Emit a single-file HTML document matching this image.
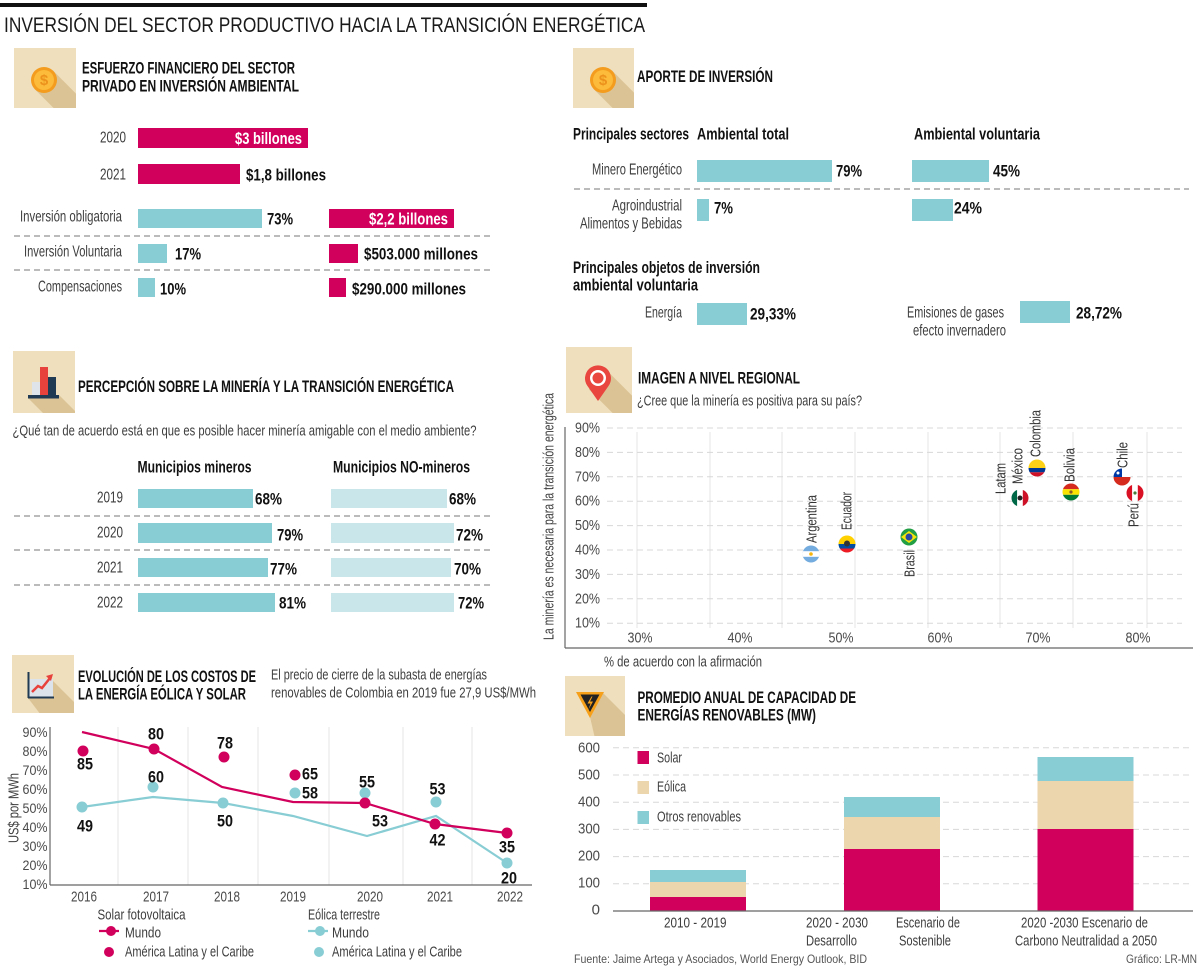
<!DOCTYPE html>
<html><head><meta charset="utf-8"><style>
html,body{margin:0;padding:0;background:#fff;}
svg{display:block;}
text{font-family:"Liberation Sans",Arial,sans-serif;}
.l{fill:#3d3d3d;font-size:16px;}
.v{fill:#111;font-size:17px;font-weight:bold;}
.h{fill:#111;font-size:16.5px;font-weight:bold;}
.ax{fill:#4a4a4a;font-size:15px;}
</style></head><body>
<svg width="1200" height="966" viewBox="0 0 1200 966" xmlns="http://www.w3.org/2000/svg" lengthAdjust="spacingAndGlyphs">
<defs>
<clipPath id="ib1"><rect x="14" y="48" width="62" height="60"/></clipPath>
<clipPath id="ib2"><rect x="573" y="48" width="61" height="60"/></clipPath>
<clipPath id="ib3"><rect x="13" y="351" width="62" height="62"/></clipPath>
<clipPath id="ib4"><rect x="566" y="347" width="66" height="66"/></clipPath>
<clipPath id="ib5"><rect x="12" y="655" width="62" height="58"/></clipPath>
<clipPath id="ib6"><rect x="565" y="676" width="60" height="60"/></clipPath>
<clipPath id="fA"><circle cx="811" cy="554" r="8.5"/></clipPath>
<clipPath id="fE"><circle cx="847" cy="544" r="8.5"/></clipPath>
<clipPath id="fB"><circle cx="909" cy="537" r="8.5"/></clipPath>
<clipPath id="fM"><circle cx="1020" cy="498" r="8.5"/></clipPath>
<clipPath id="fC"><circle cx="1037" cy="468" r="8.5"/></clipPath>
<clipPath id="fBo"><circle cx="1071" cy="492" r="8.5"/></clipPath>
<clipPath id="fCh"><circle cx="1122" cy="477" r="8.5"/></clipPath>
<clipPath id="fP"><circle cx="1135" cy="493" r="8.5"/></clipPath>
</defs>

<!-- HEADER -->
<rect x="0" y="3" width="647" height="4" fill="#111"/>
<text x="4" y="25.5" dominant-baseline="central" font-size="21" fill="#1a1a1a" textLength="641" lengthAdjust="spacingAndGlyphs">INVERSIÓN DEL SECTOR PRODUCTIVO HACIA LA TRANSICIÓN ENERGÉTICA</text>

<!-- ICON 1 coin -->
<rect x="14" y="48" width="62" height="60" fill="#efdfbc"/>
<line x1="44" y1="80" x2="124" y2="160" stroke="#dcc396" stroke-width="26" clip-path="url(#ib1)"/>
<circle cx="44" cy="80" r="13" fill="#f39c1e"/>
<circle cx="44" cy="80" r="10" fill="#fcbb3a"/>
<text x="44" y="80.5" text-anchor="middle" dominant-baseline="central" font-size="15" font-weight="bold" fill="#ec921c">$</text>

<!-- SECTION 1 -->
<text class="h" x="82" y="68.5" dominant-baseline="central" textLength="213" lengthAdjust="spacingAndGlyphs">ESFUERZO FINANCIERO DEL SECTOR</text>
<text class="h" x="82" y="86.5" dominant-baseline="central" textLength="217" lengthAdjust="spacingAndGlyphs">PRIVADO EN INVERSIÓN AMBIENTAL</text>

<rect x="138" y="128" width="170" height="20" fill="#d1005c"/>
<text class="l" x="126" y="138" text-anchor="end" dominant-baseline="central" textLength="26" lengthAdjust="spacingAndGlyphs">2020</text>
<text class="v" x="302" y="138.5" text-anchor="end" dominant-baseline="central" style="fill:#fff" textLength="67" lengthAdjust="spacingAndGlyphs">$3 billones</text>

<rect x="138" y="164" width="102" height="20" fill="#d1005c"/>
<text class="l" x="126" y="175" text-anchor="end" dominant-baseline="central" textLength="26" lengthAdjust="spacingAndGlyphs">2021</text>
<text class="v" x="246" y="175" dominant-baseline="central" textLength="80" lengthAdjust="spacingAndGlyphs">$1,8 billones</text>

<rect x="138" y="209" width="124" height="19" fill="#88cdd4"/>
<rect x="329" y="209" width="125" height="19" fill="#d1005c"/>
<text class="l" x="122" y="217" text-anchor="end" dominant-baseline="central" textLength="102" lengthAdjust="spacingAndGlyphs">Inversión obligatoria</text>
<text class="v" x="267" y="219" dominant-baseline="central" textLength="26" lengthAdjust="spacingAndGlyphs">73%</text>
<text class="v" x="448" y="219" text-anchor="end" dominant-baseline="central" style="fill:#fff" textLength="79" lengthAdjust="spacingAndGlyphs">$2,2 billones</text>
<line x1="14" y1="236" x2="493" y2="236" stroke="#777" stroke-dasharray="6 4"/>

<rect x="138" y="244" width="29" height="19" fill="#88cdd4"/>
<rect x="329" y="244" width="29" height="19" fill="#d1005c"/>
<text class="l" x="122" y="252" text-anchor="end" dominant-baseline="central" textLength="98" lengthAdjust="spacingAndGlyphs">Inversión Voluntaria</text>
<text class="v" x="175" y="254" dominant-baseline="central" textLength="26" lengthAdjust="spacingAndGlyphs">17%</text>
<text class="v" x="364" y="254" dominant-baseline="central" textLength="114" lengthAdjust="spacingAndGlyphs">$503.000 millones</text>
<line x1="14" y1="270" x2="493" y2="270" stroke="#777" stroke-dasharray="6 4"/>

<rect x="138" y="278" width="17" height="19" fill="#88cdd4"/>
<rect x="329" y="278" width="17" height="19" fill="#d1005c"/>
<text class="l" x="122" y="287" text-anchor="end" dominant-baseline="central" textLength="84" lengthAdjust="spacingAndGlyphs">Compensaciones</text>
<text class="v" x="160" y="289" dominant-baseline="central" textLength="26" lengthAdjust="spacingAndGlyphs">10%</text>
<text class="v" x="352" y="289" dominant-baseline="central" textLength="114" lengthAdjust="spacingAndGlyphs">$290.000 millones</text>

<!-- ICON 2 coin -->
<rect x="573" y="48" width="61" height="60" fill="#efdfbc"/>
<line x1="603" y1="80" x2="683" y2="160" stroke="#dcc396" stroke-width="26" clip-path="url(#ib2)"/>
<circle cx="603" cy="80" r="13" fill="#f39c1e"/>
<circle cx="603" cy="80" r="10" fill="#fcbb3a"/>
<text x="603" y="80.5" text-anchor="middle" dominant-baseline="central" font-size="15" font-weight="bold" fill="#ec921c">$</text>

<!-- SECTION 2 -->
<text class="h" x="637" y="77" dominant-baseline="central" textLength="136" lengthAdjust="spacingAndGlyphs">APORTE DE INVERSIÓN</text>
<text class="h" x="573" y="134" dominant-baseline="central" textLength="116" lengthAdjust="spacingAndGlyphs" style="font-size:17px">Principales sectores</text>
<text class="h" x="697" y="134" dominant-baseline="central" textLength="92" lengthAdjust="spacingAndGlyphs" style="font-size:17px">Ambiental total</text>
<text class="h" x="914" y="134" dominant-baseline="central" textLength="126" lengthAdjust="spacingAndGlyphs" style="font-size:17px">Ambiental voluntaria</text>

<rect x="697" y="160" width="135" height="22" fill="#88cdd4"/>
<rect x="912" y="160" width="77" height="22" fill="#88cdd4"/>
<text class="l" x="682" y="170" text-anchor="end" dominant-baseline="central" textLength="90" lengthAdjust="spacingAndGlyphs">Minero Energético</text>
<text class="v" x="836" y="171" dominant-baseline="central" textLength="26" lengthAdjust="spacingAndGlyphs">79%</text>
<text class="v" x="993" y="171" dominant-baseline="central" textLength="27" lengthAdjust="spacingAndGlyphs">45%</text>
<line x1="574" y1="189" x2="1189" y2="189" stroke="#777" stroke-dasharray="6 4"/>

<rect x="697" y="199" width="12" height="22" fill="#88cdd4"/>
<rect x="912" y="199" width="41" height="22" fill="#88cdd4"/>
<text class="l" x="682" y="206" text-anchor="end" dominant-baseline="central" textLength="70" lengthAdjust="spacingAndGlyphs">Agroindustrial</text>
<text class="l" x="682" y="224" text-anchor="end" dominant-baseline="central" textLength="102" lengthAdjust="spacingAndGlyphs">Alimentos y Bebidas</text>
<text class="v" x="714" y="208" dominant-baseline="central" textLength="19" lengthAdjust="spacingAndGlyphs">7%</text>
<text class="v" x="954" y="208" dominant-baseline="central" textLength="28" lengthAdjust="spacingAndGlyphs">24%</text>

<text class="h" x="573" y="267.5" dominant-baseline="central" textLength="187" lengthAdjust="spacingAndGlyphs" style="font-size:17px">Principales objetos de inversión</text>
<text class="h" x="573" y="285" dominant-baseline="central" textLength="125" lengthAdjust="spacingAndGlyphs" style="font-size:17px">ambiental voluntaria</text>

<rect x="697" y="303" width="50" height="22" fill="#88cdd4"/>
<text class="l" x="682" y="313" text-anchor="end" dominant-baseline="central" textLength="37" lengthAdjust="spacingAndGlyphs">Energía</text>
<text class="v" x="750" y="314" dominant-baseline="central" textLength="46" lengthAdjust="spacingAndGlyphs">29,33%</text>
<rect x="1020" y="301" width="50" height="22" fill="#88cdd4"/>
<text class="l" x="907" y="313" dominant-baseline="central" textLength="97" lengthAdjust="spacingAndGlyphs">Emisiones de gases</text>
<text class="l" x="913" y="331" dominant-baseline="central" textLength="93" lengthAdjust="spacingAndGlyphs">efecto invernadero</text>
<text class="v" x="1076" y="313" dominant-baseline="central" textLength="46" lengthAdjust="spacingAndGlyphs">28,72%</text>

<!-- ICON 3 chart -->
<rect x="13" y="351" width="62" height="62" fill="#efdfbc"/>
<polygon points="28,398 59,395 95,431 64,434" fill="#dcc396" clip-path="url(#ib3)"/>
<rect x="32" y="382" width="8" height="14" fill="#dfe4ea"/>
<rect x="40" y="367" width="8" height="29" fill="#e8423d"/>
<rect x="48" y="377" width="8" height="19" fill="#1f3a52"/>
<rect x="28" y="395" width="31" height="3.5" fill="#1f3a52"/>

<!-- SECTION 3 -->
<text class="h" x="78" y="387" dominant-baseline="central" textLength="376" lengthAdjust="spacingAndGlyphs">PERCEPCIÓN SOBRE LA MINERÍA Y LA TRANSICIÓN ENERGÉTICA</text>
<text class="l" x="12.5" y="431" dominant-baseline="central" textLength="464" lengthAdjust="spacingAndGlyphs" style="font-size:15px">¿Qué tan de acuerdo está en que es posible hacer minería amigable con el medio ambiente?</text>
<text class="h" x="137.5" y="467" dominant-baseline="central" textLength="114" lengthAdjust="spacingAndGlyphs" style="font-size:17px">Municipios mineros</text>
<text class="h" x="333" y="467" dominant-baseline="central" textLength="137" lengthAdjust="spacingAndGlyphs" style="font-size:17px">Municipios NO-mineros</text>

<rect x="138" y="489" width="115" height="19" fill="#88cdd4"/>
<rect x="331" y="489" width="116" height="19" fill="#c9e7ea"/>
<text class="l" x="123" y="498" text-anchor="end" dominant-baseline="central" textLength="26" lengthAdjust="spacingAndGlyphs">2019</text>
<text class="v" x="255" y="499" dominant-baseline="central" textLength="27" lengthAdjust="spacingAndGlyphs">68%</text>
<text class="v" x="449" y="499" dominant-baseline="central" textLength="27" lengthAdjust="spacingAndGlyphs">68%</text>
<line x1="14" y1="516" x2="493" y2="516" stroke="#777" stroke-dasharray="6 4"/>

<rect x="138" y="523" width="134" height="20" fill="#88cdd4"/>
<rect x="331" y="523" width="123" height="20" fill="#c9e7ea"/>
<text class="l" x="123" y="533" text-anchor="end" dominant-baseline="central" textLength="26" lengthAdjust="spacingAndGlyphs">2020</text>
<text class="v" x="277" y="535" dominant-baseline="central" textLength="26" lengthAdjust="spacingAndGlyphs">79%</text>
<text class="v" x="456" y="535" dominant-baseline="central" textLength="27" lengthAdjust="spacingAndGlyphs">72%</text>
<line x1="14" y1="550" x2="493" y2="550" stroke="#777" stroke-dasharray="6 4"/>

<rect x="138" y="558" width="130" height="19" fill="#88cdd4"/>
<rect x="331" y="558" width="120" height="19" fill="#c9e7ea"/>
<text class="l" x="123" y="568" text-anchor="end" dominant-baseline="central" textLength="26" lengthAdjust="spacingAndGlyphs">2021</text>
<text class="v" x="270" y="569" dominant-baseline="central" textLength="27" lengthAdjust="spacingAndGlyphs">77%</text>
<text class="v" x="454" y="569" dominant-baseline="central" textLength="27" lengthAdjust="spacingAndGlyphs">70%</text>
<line x1="14" y1="585" x2="493" y2="585" stroke="#777" stroke-dasharray="6 4"/>

<rect x="138" y="593" width="137" height="19" fill="#88cdd4"/>
<rect x="331" y="593" width="123" height="19" fill="#c9e7ea"/>
<text class="l" x="123" y="603" text-anchor="end" dominant-baseline="central" textLength="26" lengthAdjust="spacingAndGlyphs">2022</text>
<text class="v" x="279" y="603" dominant-baseline="central" textLength="27" lengthAdjust="spacingAndGlyphs">81%</text>
<text class="v" x="458" y="603" dominant-baseline="central" textLength="26" lengthAdjust="spacingAndGlyphs">72%</text>

<!-- ICON 4 pin -->
<rect x="566" y="347" width="66" height="66" fill="#efdfbc"/>
<line x1="598" y1="380" x2="678" y2="460" stroke="#dcc396" stroke-width="26" clip-path="url(#ib4)"/>
<path d="M598,401 L587.5,386 A13,13 0 1 1 608.5,386 Z" fill="#e8463e"/>
<circle cx="598" cy="378" r="8" fill="#fff"/>
<circle cx="598" cy="378" r="5.5" fill="#e8463e"/>

<!-- SECTION 4 scatter -->
<text class="h" x="638" y="378.5" dominant-baseline="central" textLength="162" lengthAdjust="spacingAndGlyphs">IMAGEN A NIVEL REGIONAL</text>
<text class="l" x="637" y="401" dominant-baseline="central" textLength="225" lengthAdjust="spacingAndGlyphs" style="font-size:15px">¿Cree que la minería es positiva para su país?</text>

<g stroke="#e4e4e4" stroke-width="1">
<line x1="637" y1="432" x2="637" y2="628"/><line x1="710" y1="432" x2="710" y2="628"/>
<line x1="782" y1="432" x2="782" y2="628"/><line x1="855" y1="432" x2="855" y2="628"/>
<line x1="928" y1="432" x2="928" y2="628"/><line x1="1000" y1="432" x2="1000" y2="628"/>
<line x1="1073" y1="432" x2="1073" y2="628"/><line x1="1147" y1="432" x2="1147" y2="628"/>
</g>
<g stroke="#d8d8d8" stroke-width="1" stroke-dasharray="6 4">
<line x1="607" y1="428" x2="1182" y2="428"/><line x1="607" y1="452.4" x2="1182" y2="452.4"/>
<line x1="607" y1="476.8" x2="1182" y2="476.8"/><line x1="607" y1="501.2" x2="1182" y2="501.2"/>
<line x1="607" y1="525.6" x2="1182" y2="525.6"/><line x1="607" y1="550" x2="1182" y2="550"/>
<line x1="607" y1="574.4" x2="1182" y2="574.4"/><line x1="607" y1="598.8" x2="1182" y2="598.8"/>
<line x1="607" y1="623.2" x2="1182" y2="623.2"/>
</g>
<line x1="565" y1="427" x2="565" y2="648" stroke="#666" stroke-width="1.2"/>
<line x1="565" y1="648" x2="1193" y2="648" stroke="#666" stroke-width="1.2"/>
<g class="ax" text-anchor="end" dominant-baseline="central">
<text x="600" y="428" textLength="25" lengthAdjust="spacingAndGlyphs">90%</text>
<text x="600" y="452.4" textLength="25" lengthAdjust="spacingAndGlyphs">80%</text>
<text x="600" y="476.8" textLength="25" lengthAdjust="spacingAndGlyphs">70%</text>
<text x="600" y="501.2" textLength="25" lengthAdjust="spacingAndGlyphs">60%</text>
<text x="600" y="525.6" textLength="25" lengthAdjust="spacingAndGlyphs">50%</text>
<text x="600" y="550" textLength="25" lengthAdjust="spacingAndGlyphs">40%</text>
<text x="600" y="574.4" textLength="25" lengthAdjust="spacingAndGlyphs">30%</text>
<text x="600" y="598.8" textLength="25" lengthAdjust="spacingAndGlyphs">20%</text>
<text x="600" y="623.2" textLength="25" lengthAdjust="spacingAndGlyphs">10%</text>
</g>
<g class="ax" text-anchor="middle" dominant-baseline="central">
<text x="640" y="638" textLength="25" lengthAdjust="spacingAndGlyphs">30%</text>
<text x="740" y="638" textLength="25" lengthAdjust="spacingAndGlyphs">40%</text>
<text x="841" y="638" textLength="25" lengthAdjust="spacingAndGlyphs">50%</text>
<text x="940" y="638" textLength="25" lengthAdjust="spacingAndGlyphs">60%</text>
<text x="1038" y="638" textLength="25" lengthAdjust="spacingAndGlyphs">70%</text>
<text x="1138" y="638" textLength="25" lengthAdjust="spacingAndGlyphs">80%</text>
</g>
<text class="l" x="604" y="662" dominant-baseline="central" textLength="158" lengthAdjust="spacingAndGlyphs" style="font-size:15px">% de acuerdo con la afirmación</text>
<text class="l" transform="translate(549,640) rotate(-90)" x="0" y="0" dominant-baseline="central" textLength="247" lengthAdjust="spacingAndGlyphs" style="font-size:15px">La minería es necesaria para la transición energética</text>

<!-- flags -->
<g clip-path="url(#fA)"><rect x="802" y="545" width="18" height="18" fill="#74acdf"/><rect x="802" y="551.2" width="18" height="5.6" fill="#fff"/><circle cx="811" cy="554" r="1.8" fill="#f6b40e"/></g>
<g clip-path="url(#fE)"><rect x="838" y="535" width="18" height="9" fill="#ffd100"/><rect x="838" y="544" width="18" height="4.5" fill="#034ea2"/><rect x="838" y="548.5" width="18" height="5" fill="#ed1c24"/><circle cx="847" cy="543.5" r="3" fill="#333"/></g>
<g clip-path="url(#fB)"><rect x="900" y="528" width="18" height="18" fill="#229e45"/><polygon points="901,537 909,531 917,537 909,543" fill="#f8e509"/><circle cx="909" cy="537" r="3.5" fill="#2b49a3"/></g>
<g clip-path="url(#fM)"><rect x="1011" y="489" width="6.2" height="18" fill="#006847"/><rect x="1017.2" y="489" width="5.6" height="18" fill="#fff"/><rect x="1022.8" y="489" width="6.5" height="18" fill="#ce1126"/><circle cx="1020" cy="498" r="2.5" fill="#222"/></g>
<g clip-path="url(#fC)"><rect x="1028" y="459" width="18" height="9" fill="#fcd116"/><rect x="1028" y="468" width="18" height="4.3" fill="#003893"/><rect x="1028" y="472.3" width="18" height="5" fill="#ce1126"/></g>
<g clip-path="url(#fBo)"><rect x="1062" y="483" width="18" height="6.2" fill="#d52b1e"/><rect x="1062" y="489.2" width="18" height="5.6" fill="#f9e300"/><rect x="1062" y="494.8" width="18" height="6" fill="#007934"/><circle cx="1071" cy="492" r="1.6" fill="#8a5a2a"/></g>
<g clip-path="url(#fCh)"><rect x="1113" y="468" width="18" height="9" fill="#fff"/><rect x="1113" y="468" width="9" height="9" fill="#0039a6"/><rect x="1113" y="477" width="18" height="9" fill="#d52b1e"/><circle cx="1118" cy="473" r="1.5" fill="#fff"/></g>
<g clip-path="url(#fP)"><rect x="1126" y="484" width="6.2" height="18" fill="#d91023"/><rect x="1132.2" y="484" width="5.6" height="18" fill="#fff"/><rect x="1137.8" y="484" width="6.5" height="18" fill="#d91023"/><circle cx="1135" cy="493" r="1.6" fill="#4a7a3a"/></g>

<g class="l" style="font-size:15px;fill:#333" dominant-baseline="central">
<text transform="translate(812,543) rotate(-90)" textLength="48" lengthAdjust="spacingAndGlyphs">Argentina</text>
<text transform="translate(847,530) rotate(-90)" textLength="38" lengthAdjust="spacingAndGlyphs">Ecuador</text>
<text transform="translate(910,577) rotate(-90)" textLength="27" lengthAdjust="spacingAndGlyphs">Brasil</text>
<text transform="translate(1001,494) rotate(-90)" textLength="31" lengthAdjust="spacingAndGlyphs">Latam</text>
<text transform="translate(1018,484) rotate(-90)" textLength="36" lengthAdjust="spacingAndGlyphs">México</text>
<text transform="translate(1036,457) rotate(-90)" textLength="47" lengthAdjust="spacingAndGlyphs">Colombia</text>
<text transform="translate(1070,482) rotate(-90)" textLength="34" lengthAdjust="spacingAndGlyphs">Bolivia</text>
<text transform="translate(1123,468) rotate(-90)" textLength="26" lengthAdjust="spacingAndGlyphs">Chile</text>
<text transform="translate(1134,527) rotate(-90)" textLength="24" lengthAdjust="spacingAndGlyphs">Perú</text>
</g>

<!-- ICON 5 graph -->
<rect x="12" y="655" width="62" height="58" fill="#efdfbc"/>
<polygon points="28,698 53,698 53,681 90,718 60,740" fill="#dcc396" clip-path="url(#ib5)"/>
<rect x="29" y="679" width="24" height="18" fill="#dde3ea"/>
<line x1="28.5" y1="672" x2="28.5" y2="698" stroke="#1f3a52" stroke-width="2"/>
<line x1="28" y1="697.5" x2="54" y2="697.5" stroke="#1f3a52" stroke-width="2"/>
<polyline points="32,692 38,686 42,688 50,678" fill="none" stroke="#e8423d" stroke-width="2.5"/>
<polygon points="46,676 53,674 51,681" fill="#e8423d"/>

<!-- SECTION 5 line chart -->
<text class="h" x="78" y="677" dominant-baseline="central" textLength="178" lengthAdjust="spacingAndGlyphs">EVOLUCIÓN DE LOS COSTOS DE</text>
<text class="h" x="78" y="694.5" dominant-baseline="central" textLength="168" lengthAdjust="spacingAndGlyphs">LA ENERGÍA EÓLICA Y SOLAR</text>
<text class="l" x="271" y="675" dominant-baseline="central" textLength="216" lengthAdjust="spacingAndGlyphs" style="font-size:15px">El precio de cierre de la subasta de energías</text>
<text class="l" x="271" y="693" dominant-baseline="central" textLength="265" lengthAdjust="spacingAndGlyphs" style="font-size:15px">renovables de Colombia en 2019 fue 27,9 US$/MWh</text>

<g stroke="#e4e4e4" stroke-width="1">
<line x1="118" y1="727" x2="118" y2="885"/><line x1="188" y1="727" x2="188" y2="885"/>
<line x1="258" y1="727" x2="258" y2="885"/><line x1="329" y1="727" x2="329" y2="885"/>
<line x1="403" y1="727" x2="403" y2="885"/><line x1="472" y1="727" x2="472" y2="885"/>
</g>
<line x1="50" y1="727" x2="50" y2="885" stroke="#666" stroke-width="1.2"/>
<line x1="50" y1="885" x2="532" y2="885" stroke="#666" stroke-width="1.2"/>
<g class="ax" text-anchor="end" dominant-baseline="central" style="font-size:14px">
<text x="47.5" y="732" textLength="25" lengthAdjust="spacingAndGlyphs">90%</text>
<text x="47.5" y="751" textLength="25" lengthAdjust="spacingAndGlyphs">80%</text>
<text x="47.5" y="770" textLength="25" lengthAdjust="spacingAndGlyphs">70%</text>
<text x="47.5" y="789" textLength="25" lengthAdjust="spacingAndGlyphs">60%</text>
<text x="47.5" y="808" textLength="25" lengthAdjust="spacingAndGlyphs">50%</text>
<text x="47.5" y="827" textLength="25" lengthAdjust="spacingAndGlyphs">40%</text>
<text x="47.5" y="846" textLength="25" lengthAdjust="spacingAndGlyphs">30%</text>
<text x="47.5" y="865" textLength="25" lengthAdjust="spacingAndGlyphs">20%</text>
<text x="47.5" y="884" textLength="25" lengthAdjust="spacingAndGlyphs">10%</text>
</g>
<text class="l" transform="translate(14,843) rotate(-90)" dominant-baseline="central" textLength="70" lengthAdjust="spacingAndGlyphs" style="font-size:15px">US$ por MWh</text>
<g class="ax" text-anchor="middle" dominant-baseline="central">
<text x="84" y="897" textLength="26" lengthAdjust="spacingAndGlyphs">2016</text>
<text x="156" y="897" textLength="26" lengthAdjust="spacingAndGlyphs">2017</text>
<text x="227" y="897" textLength="26" lengthAdjust="spacingAndGlyphs">2018</text>
<text x="293" y="897" textLength="26" lengthAdjust="spacingAndGlyphs">2019</text>
<text x="370" y="897" textLength="26" lengthAdjust="spacingAndGlyphs">2020</text>
<text x="440" y="897" textLength="26" lengthAdjust="spacingAndGlyphs">2021</text>
<text x="510" y="897" textLength="26" lengthAdjust="spacingAndGlyphs">2022</text>
</g>

<polyline points="82,807 153,797 223,803 293,816 367,836 436,816 507,863" fill="none" stroke="#88cdd4" stroke-width="2.2"/>
<polyline points="82,732 154,749 222,787 293,802 365,803 435,824 507,833" fill="none" stroke="#d1005c" stroke-width="2.2"/>
<g fill="#88cdd4">
<circle cx="82" cy="807" r="5.5"/><circle cx="223" cy="803" r="5.5"/><circle cx="507" cy="863" r="5.5"/>
<circle cx="153" cy="787" r="5.5"/><circle cx="295" cy="793" r="5.5"/><circle cx="365" cy="793" r="5.5"/><circle cx="436" cy="802" r="5.5"/>
</g>
<g fill="#d1005c">
<circle cx="154" cy="749" r="5.5"/><circle cx="365" cy="803" r="5.5"/><circle cx="435" cy="824" r="5.5"/><circle cx="507" cy="833" r="5.5"/>
<circle cx="83" cy="751" r="5.5"/><circle cx="224" cy="757" r="5.5"/><circle cx="295" cy="775" r="5.5"/>
</g>
<g class="v" text-anchor="middle" dominant-baseline="central">
<text x="85" y="764" textLength="16" lengthAdjust="spacingAndGlyphs">85</text>
<text x="156" y="734" textLength="16" lengthAdjust="spacingAndGlyphs">80</text>
<text x="225" y="743" textLength="16" lengthAdjust="spacingAndGlyphs">78</text>
<text x="380" y="821" textLength="16" lengthAdjust="spacingAndGlyphs">53</text>
<text x="437.5" y="840" textLength="16" lengthAdjust="spacingAndGlyphs">42</text>
<text x="507" y="847" textLength="16" lengthAdjust="spacingAndGlyphs">35</text>
<text x="85" y="826" textLength="16" lengthAdjust="spacingAndGlyphs">49</text>
<text x="156" y="777" textLength="16" lengthAdjust="spacingAndGlyphs">60</text>
<text x="225" y="821" textLength="16" lengthAdjust="spacingAndGlyphs">50</text>
<text x="367" y="782" textLength="16" lengthAdjust="spacingAndGlyphs">55</text>
<text x="437.5" y="789" textLength="16" lengthAdjust="spacingAndGlyphs">53</text>
<text x="509" y="878" textLength="16" lengthAdjust="spacingAndGlyphs">20</text>
</g>
<text class="v" x="302" y="774" dominant-baseline="central" textLength="16" lengthAdjust="spacingAndGlyphs">65</text>
<text class="v" x="302" y="793" dominant-baseline="central" textLength="16" lengthAdjust="spacingAndGlyphs">58</text>

<!-- legend line chart -->
<text class="l" x="97.5" y="915" dominant-baseline="central" textLength="88" lengthAdjust="spacingAndGlyphs" style="font-size:15px">Solar fotovoltaica</text>
<text class="l" x="308" y="915" dominant-baseline="central" textLength="72" lengthAdjust="spacingAndGlyphs" style="font-size:15px">Eólica terrestre</text>
<line x1="99" y1="931" x2="119" y2="931" stroke="#d1005c" stroke-width="2.2"/>
<circle cx="111" cy="931" r="5" fill="#d1005c"/>
<text class="l" x="125" y="933" dominant-baseline="central" textLength="36" lengthAdjust="spacingAndGlyphs" style="font-size:15px">Mundo</text>
<circle cx="109" cy="952" r="5" fill="#d1005c"/>
<text class="l" x="125" y="952" dominant-baseline="central" textLength="129" lengthAdjust="spacingAndGlyphs" style="font-size:15px">América Latina y el Caribe</text>
<line x1="308" y1="931" x2="328" y2="931" stroke="#88cdd4" stroke-width="2.2"/>
<circle cx="320" cy="931" r="5" fill="#88cdd4"/>
<text class="l" x="332" y="933" dominant-baseline="central" textLength="37" lengthAdjust="spacingAndGlyphs" style="font-size:15px">Mundo</text>
<circle cx="319" cy="952" r="5" fill="#88cdd4"/>
<text class="l" x="332" y="952" dominant-baseline="central" textLength="130" lengthAdjust="spacingAndGlyphs" style="font-size:15px">América Latina y el Caribe</text>

<!-- ICON 6 warning -->
<rect x="565" y="676" width="60" height="60" fill="#efdfbc"/>
<polygon points="577,693 603,693 633,723 633,760 600,760 590,717" fill="#dcc396" clip-path="url(#ib6)"/>
<polygon points="576,692 604,692 590,718" fill="#f6a01a"/>
<polygon points="580.5,694.5 599.5,694.5 590,712" fill="#222"/>
<polygon points="591.5,696.5 587.5,703.5 590.5,703.5 588.5,709.5 593,701.5 590,701.5 592.5,696.5" fill="#f6a01a"/>

<!-- SECTION 6 bar chart -->
<text class="h" x="637.5" y="698" dominant-baseline="central" textLength="218.5" lengthAdjust="spacingAndGlyphs">PROMEDIO ANUAL DE CAPACIDAD DE</text>
<text class="h" x="637.5" y="715.5" dominant-baseline="central" textLength="178.5" lengthAdjust="spacingAndGlyphs">ENERGÍAS RENOVABLES (MW)</text>

<g stroke="#d8d8d8" stroke-width="1" stroke-dasharray="6 4">
<line x1="613" y1="747.8" x2="1190" y2="747.8"/><line x1="613" y1="775" x2="1190" y2="775"/>
<line x1="613" y1="802.2" x2="1190" y2="802.2"/><line x1="613" y1="829.4" x2="1190" y2="829.4"/>
<line x1="613" y1="856.6" x2="1190" y2="856.6"/><line x1="613" y1="883.8" x2="1190" y2="883.8"/>
</g>
<g class="ax" text-anchor="end" dominant-baseline="central">
<text x="600" y="748" textLength="22" lengthAdjust="spacingAndGlyphs">600</text>
<text x="600" y="775" textLength="22" lengthAdjust="spacingAndGlyphs">500</text>
<text x="600" y="802" textLength="22" lengthAdjust="spacingAndGlyphs">400</text>
<text x="600" y="829" textLength="22" lengthAdjust="spacingAndGlyphs">300</text>
<text x="600" y="856" textLength="22" lengthAdjust="spacingAndGlyphs">200</text>
<text x="600" y="883" textLength="22" lengthAdjust="spacingAndGlyphs">100</text>
<text x="600" y="910">0</text>
</g>
<!-- bars -->
<rect x="650" y="870" width="96" height="12" fill="#88cdd4"/>
<rect x="650" y="882" width="96" height="15" fill="#ecd6ae"/>
<rect x="650" y="897" width="96" height="14" fill="#d1005c"/>
<rect x="844" y="797" width="96" height="20" fill="#88cdd4"/>
<rect x="844" y="817" width="96" height="32" fill="#ecd6ae"/>
<rect x="844" y="849" width="96" height="62" fill="#d1005c"/>
<rect x="1037.5" y="757" width="96" height="24" fill="#88cdd4"/>
<rect x="1037.5" y="781" width="96" height="48" fill="#ecd6ae"/>
<rect x="1037.5" y="829" width="96" height="82" fill="#d1005c"/>
<line x1="613" y1="911" x2="1193" y2="911" stroke="#666" stroke-width="1.2"/>
<!-- legend -->
<rect x="637.5" y="751" width="11.5" height="13" fill="#d1005c"/>
<text class="l" x="657" y="758" dominant-baseline="central" textLength="25" lengthAdjust="spacingAndGlyphs" style="font-size:15px">Solar</text>
<rect x="637.5" y="781" width="11.5" height="13" fill="#ecd6ae"/>
<text class="l" x="657" y="787" dominant-baseline="central" textLength="29" lengthAdjust="spacingAndGlyphs" style="font-size:15px">Eólica</text>
<rect x="637.5" y="811" width="11.5" height="13" fill="#88cdd4"/>
<text class="l" x="657" y="817" dominant-baseline="central" textLength="84" lengthAdjust="spacingAndGlyphs" style="font-size:15px">Otros renovables</text>
<!-- x labels -->
<g class="l" dominant-baseline="central" style="font-size:15px">
<text x="664" y="923" textLength="62.5" lengthAdjust="spacingAndGlyphs">2010 - 2019</text>
<text x="806" y="923" textLength="62" lengthAdjust="spacingAndGlyphs">2020 - 2030</text>
<text x="806" y="941" textLength="51" lengthAdjust="spacingAndGlyphs">Desarrollo</text>
<text x="896" y="923" textLength="64" lengthAdjust="spacingAndGlyphs">Escenario de</text>
<text x="899" y="941" textLength="52" lengthAdjust="spacingAndGlyphs">Sostenible</text>
<text x="1021" y="923" textLength="127" lengthAdjust="spacingAndGlyphs">2020 -2030 Escenario de</text>
<text x="1015" y="941" textLength="142" lengthAdjust="spacingAndGlyphs">Carbono Neutralidad a 2050</text>
</g>
<!-- footer -->
<text x="574" y="959" dominant-baseline="central" font-size="12" fill="#555" textLength="293" lengthAdjust="spacingAndGlyphs">Fuente: Jaime Artega y Asociados,  World Energy Outlook, BID</text>
<text x="1197" y="959" text-anchor="end" dominant-baseline="central" font-size="12" fill="#555" textLength="71" lengthAdjust="spacingAndGlyphs">Gráfico: LR-MN</text>
</svg>
</body></html>
